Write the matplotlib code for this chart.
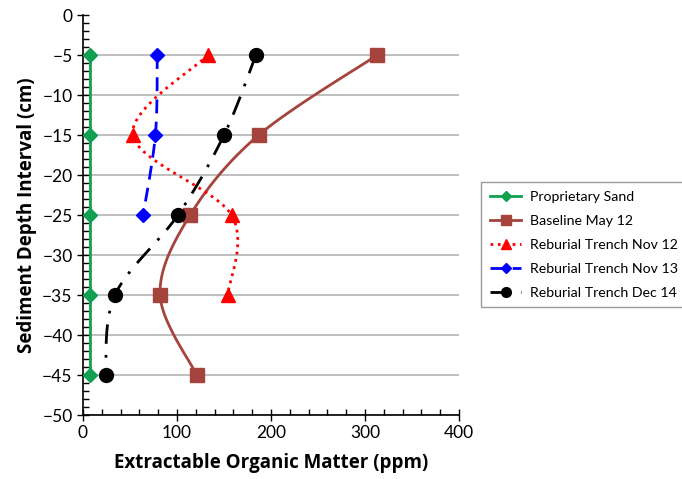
import numpy as np
import matplotlib.pyplot as plt
from matplotlib.ticker import MultipleLocator

plt.rcParams["font.family"] = ["Lato", "DejaVu Sans"]

# depth intervals (cm)
depth5 = [-5, -15, -25, -35, -45]
depth4 = [-5, -15, -25, -35]
depth3 = [-5, -15, -25]

sand = [7, 7, 7, 7, 7]
baseline_may12 = [313, 187, 114, 82, 121]
trench_nov12 = [133, 53, 158, 154]
trench_nov13 = [79, 77, 64]
trench_dec14 = [184, 150, 101, 34, 24]


def smooth(x, y, n=30):
    # Excel-style smoothed line: Catmull-Rom bezier through the points
    x = np.asarray(x, float)
    y = np.asarray(y, float)
    if len(x) < 3:
        return x, y
    px = np.concatenate([[x[0]], x, [x[-1]]])
    py = np.concatenate([[y[0]], y, [y[-1]]])
    xs, ys = [], []
    t = np.linspace(0, 1, n)
    for i in range(1, len(px) - 2):
        p0 = np.array([px[i], py[i]])
        p3 = np.array([px[i + 1], py[i + 1]])
        c1 = p0 + (np.array([px[i + 1], py[i + 1]]) - np.array([px[i - 1], py[i - 1]])) / 6
        c2 = p3 - (np.array([px[i + 2], py[i + 2]]) - np.array([px[i], py[i]])) / 6
        b = ((1 - t) ** 3)[:, None] * p0 + (3 * (1 - t) ** 2 * t)[:, None] * c1 \
            + (3 * (1 - t) * t ** 2)[:, None] * c2 + (t ** 3)[:, None] * p3
        xs.append(b[:, 0])
        ys.append(b[:, 1])
    return np.concatenate(xs), np.concatenate(ys)


fig = plt.figure(figsize=(6.82, 4.79), dpi=100)
ax = fig.add_axes([0.1217, 0.1336, 0.5513, 0.835])

for d in range(-5, -51, -5):
    ax.axhline(d, color="#BFBFBF", lw=1.4, zorder=0)

series = [
    (sand, depth5, "#10A050", "-", "D", 7, "Proprietary Sand"),
    (baseline_may12, depth5, "#A5433D", "-", "s", 10, "Baseline May 12"),
    (trench_nov12, depth4, "#FF0000", ":", "^", 10, "Reburial Trench Nov 12"),
    (trench_nov13, depth3, "#0000FF", (0, (5, 3)), "D", 7, "Reburial Trench Nov 13"),
    (trench_dec14, depth5, "black", (0, (7, 4, 1, 4)), "o", 10, "Reburial Trench Dec 14"),
]

handles = []
for xv, yv, col, ls, mk, ms, lab in series:
    sx, sy = smooth(xv, yv)
    ax.plot(sx, sy, color=col, ls=ls, lw=2.0, zorder=2)
    ax.plot(xv, yv, ls="none", marker=mk, ms=ms, color=col, zorder=3)
    h, = ax.plot([], [], color=col, ls=ls, lw=2.0, marker=mk, ms=ms * 0.7, label=lab)
    handles.append(h)

ax.set_xlim(0, 400)
ax.set_ylim(-50, 0)
ax.xaxis.set_major_locator(MultipleLocator(100))
ax.xaxis.set_minor_locator(MultipleLocator(20))
ax.yaxis.set_major_locator(MultipleLocator(5))
ax.yaxis.set_minor_locator(MultipleLocator(1))
ax.tick_params(which="major", direction="inout", length=8, width=1, labelsize=12.5)
ax.tick_params(which="minor", direction="in", length=4, width=1)
for s in ["top", "right"]:
    ax.spines[s].set_visible(False)
for s in ["left", "bottom"]:
    ax.spines[s].set_linewidth(1.2)

lab_font = dict(family=["Open Sans", "DejaVu Sans"], fontsize=13.5, fontweight="bold")
ax.set_xlabel("Extractable Organic Matter (ppm)", labelpad=8, **lab_font)
ax.set_ylabel("Sediment Depth Interval (cm)", labelpad=4, **lab_font)

leg = fig.legend(handles=handles, loc="upper left", bbox_to_anchor=(0.706, 0.62),
                 fontsize=10.2, frameon=True, fancybox=False, edgecolor="#808080",
                 handlelength=2.2, handletextpad=0.6, borderpad=0.6,
                 labelspacing=0.85, borderaxespad=0)
leg.get_frame().set_linewidth(1.0)

fig.savefig("out.png", dpi=100)
